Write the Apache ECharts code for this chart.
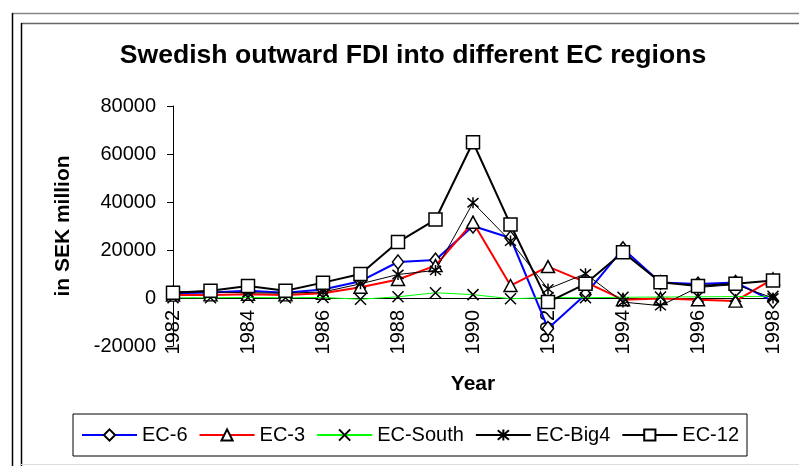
<!DOCTYPE html>
<html>
<head>
<meta charset="utf-8">
<script src="https://cdn.jsdelivr.net/npm/echarts@6/dist/echarts.min.js"></script>
<style>
html,body{margin:0;padding:0;background:#fff;}
#c{width:799px;height:466px;}
</style>
</head>
<body>
<div id="c"></div>
<script>
const years = ['1982','1983','1984','1985','1986','1987','1988','1989','1990','1991','1992','1993','1994','1995','1996','1997','1998'];
const ec6     = [2000, 2300, 3000, 2200, 3500, 7000, 15000, 15800, 30000, 25000, -12700, 1500, 20500, 6500, 5800, 6500, -1300];
const ec3     = [1200, 1300, 1600, 1300, 2000, 4500, 7700, 13500, 31600, 5200, 13100, 6600, -700, -200, -700, -1300, 8000];
const ecSouth = [100, 100, 200, 100, 200, -500, 500, 2200, 1400, -300, 200, 100, 300, 400, 500, 600, 700];
const ecBig4  = [2700, 2500, 2200, 2000, 2500, 5900, 9800, 11500, 39700, 23700, 3800, 10100, -1700, -3200, 4400, 5600, 0];
const ec12    = [2200, 3000, 5000, 3000, 6400, 10000, 23300, 32700, 64900, 30600, -1700, 5900, 19100, 6600, 5000, 5900, 7300];
const yTicks  = {min: -20000, max: 80000, interval: 20000};

const FONT = 'Liberation Sans, Arial, sans-serif';
const XPATH = 'path://M0,0L10,10M10,0L0,10';
const STARPATH = 'path://M0,0L10,10M10,0L0,10M5,-1L5,11';
const hollow = {color: '#fff', borderColor: '#000', borderWidth: 1.5};
const strokeOnly = {color: 'rgba(0,0,0,0)', borderColor: '#000', borderWidth: 1.5};

const GRID_TOP = 106, GRID_BOTTOM_PX = 346;
const zeroOffset = -(GRID_BOTTOM_PX - (GRID_TOP + (GRID_BOTTOM_PX - GRID_TOP) * (yTicks.max / (yTicks.max - yTicks.min))));

const chart = echarts.init(document.getElementById('c'), null, {renderer: 'canvas'});
chart.setOption({
  animation: false,
  backgroundColor: '#fff',
  textStyle: {fontFamily: FONT},
  title: {
    text: 'Swedish outward FDI into different EC regions',
    left: 408, top: 37, textAlign: 'center',
    textStyle: {fontFamily: FONT, fontSize: 26.6, fontWeight: 'bold', color: '#000'}
  },
  graphic: [
    {type: 'line', shape: {x1: 12, y1: 13.5, x2: 799, y2: 13.5}, style: {stroke: '#888', lineWidth: 1.5}},
    {type: 'line', shape: {x1: 12.5, y1: 13, x2: 12.5, y2: 466}, style: {stroke: '#000', lineWidth: 1.5}},
    {type: 'line', shape: {x1: 21, y1: 23.5, x2: 799, y2: 23.5}, style: {stroke: '#666', lineWidth: 1.5}},
    {type: 'line', shape: {x1: 21.5, y1: 23, x2: 21.5, y2: 466}, style: {stroke: '#000', lineWidth: 1.5}},
    {type: 'line', shape: {x1: 21, y1: 464.5, x2: 799, y2: 464.5}, style: {stroke: '#ddd', lineWidth: 1}}
  ],
  legend: {
    left: 73, top: 414,
    padding: [11, 8, 11, 8],
    itemWidth: 55, itemHeight: 14, itemGap: 11,
    borderColor: '#000', borderWidth: 1,
    textStyle: {fontFamily: FONT, fontSize: 20, color: '#000'},
    data: ['EC-6', 'EC-3', 'EC-South', 'EC-Big4', 'EC-12']
  },
  grid: {left: 173, right: 26, top: GRID_TOP, bottom: 466 - GRID_BOTTOM_PX, containLabel: false},
  xAxis: {
    type: 'category', data: years, boundaryGap: false,
    position: 'bottom', offset: zeroOffset,
    name: 'Year', nameLocation: 'middle', nameGap: 76,
    nameTextStyle: {fontFamily: FONT, fontSize: 21, fontWeight: 'bold', color: '#000'},
    axisLine: {onZero: false, lineStyle: {color: '#000', width: 1}},
    axisTick: {show: false},
    axisLabel: {interval: 1, rotate: 90, margin: 12, fontFamily: FONT, fontSize: 20, color: '#000'},
    splitLine: {show: false}
  },
  yAxis: {
    type: 'value', min: yTicks.min, max: yTicks.max, interval: yTicks.interval,
    name: 'in SEK million', nameLocation: 'middle', nameGap: 99, nameRotate: 90,
    nameTextStyle: {fontFamily: FONT, fontSize: 21, fontWeight: 'bold', color: '#000'},
    axisLine: {show: true, lineStyle: {color: '#000', width: 1}},
    axisTick: {show: true, length: 6, lineStyle: {color: '#000'}},
    axisLabel: {margin: 17, fontFamily: FONT, fontSize: 20, color: '#000', formatter: v => String(v)},
    splitLine: {show: false}
  },
  series: [
    {name: 'EC-6', type: 'line', data: ec6, symbol: 'diamond', symbolSize: [11, 14], showAllSymbol: true,
     lineStyle: {color: '#0000ff', width: 2}, itemStyle: hollow, z: 2},
    {name: 'EC-3', type: 'line', data: ec3, symbol: 'triangle', symbolSize: [13, 12], showAllSymbol: true,
     lineStyle: {color: '#ff0000', width: 2}, itemStyle: hollow, z: 3},
    {name: 'EC-South', type: 'line', data: ecSouth, symbol: XPATH, symbolSize: 11, showAllSymbol: true,
     lineStyle: {color: '#00ff00', width: 1}, itemStyle: strokeOnly, z: 4},
    {name: 'EC-Big4', type: 'line', data: ecBig4, symbol: STARPATH, symbolSize: 11, showAllSymbol: true,
     lineStyle: {color: '#000', width: 1}, itemStyle: strokeOnly, z: 5},
    {name: 'EC-12', type: 'line', data: ec12, symbol: 'rect', symbolSize: 13, showAllSymbol: true,
     lineStyle: {color: '#000', width: 2}, itemStyle: hollow, z: 6}
  ]
});
</script>
</body>
</html>
